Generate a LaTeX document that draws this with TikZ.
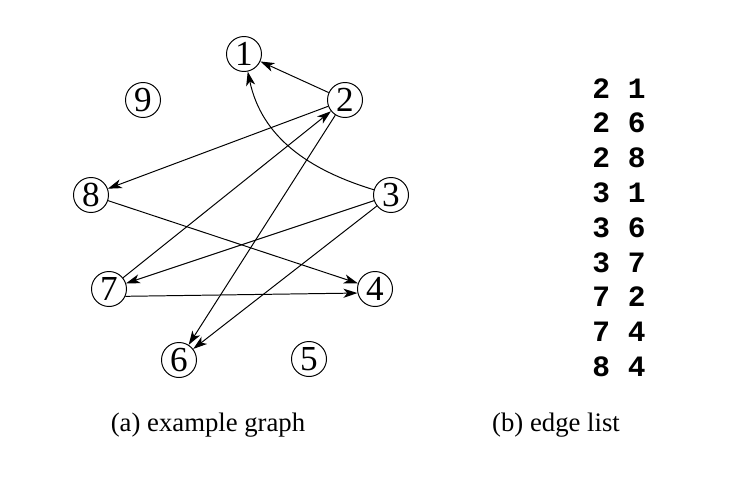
\documentclass[tikz,border=0pt]{standalone}
\usepackage{fontspec}
\setmainfont{Liberation Serif}
\setmonofont{Liberation Mono}
\usetikzlibrary{arrows.meta}

\begin{document}
\begin{tikzpicture}[
    x=0.025cm, y=0.025cm,
    vertex/.style={circle, draw, line width=0.7pt, minimum size=0.875cm, inner sep=0pt, font=\fontsize{25}{27}\selectfont},
    edge/.style={line width=0.7pt, -{Stealth[length=10pt, width=6.5pt, inset=2.8pt]}},
    edgerow/.style={inner sep=0pt, font=\ttfamily\bfseries\fontsize{21}{24}\selectfont},
    caption/.style={anchor=base, font=\fontsize{19}{22}\selectfont}
]
\useasboundingbox (0,0) rectangle (744,496);

% Vertices
\node[vertex] (v1) at (244,442) {1};
\node[vertex] (v2) at (345,396) {2};
\node[vertex] (v3) at (391,301) {3};
\node[vertex] (v4) at (375,207) {4};
\node[vertex] (v5) at (309,137) {5};
\node[vertex] (v6) at (179,136) {6};
\node[vertex] (v7) at (109,207) {7};
\node[vertex] (v8) at (91,301) {8};
\node[vertex] (v9) at (143,396) {9};

% Edges
\draw[edge] (v2) -- (v1);
\draw[edge] (v2) -- (v6);
\draw[edge] (v2) -- (v8);
\draw[edge] (v3) to[out=163, in=-78] (v1);
\draw[edge] (v3) -- (v6);
\draw[edge] (v3) -- (v7);
\draw[edge] (v7) -- (v2);
\draw[edge] (v7.-24) -- (v4.193);
\draw[edge] (v8) -- (v4);

% Edge list
\foreach \a/\b [count=\i] in {2/1, 2/6, 2/8, 3/1, 3/6, 3/7, 7/2, 7/4, 8/4}
    \node[edgerow] (row\i) at (619, {407.7-(\i-1)*34.8}) {\a\ \b};

% Captions
\node[caption] (capa) at (208,65) {(a) example graph};
\node[caption] (capb) at (556,65) {(b) edge list};

\end{tikzpicture}
\end{document}
